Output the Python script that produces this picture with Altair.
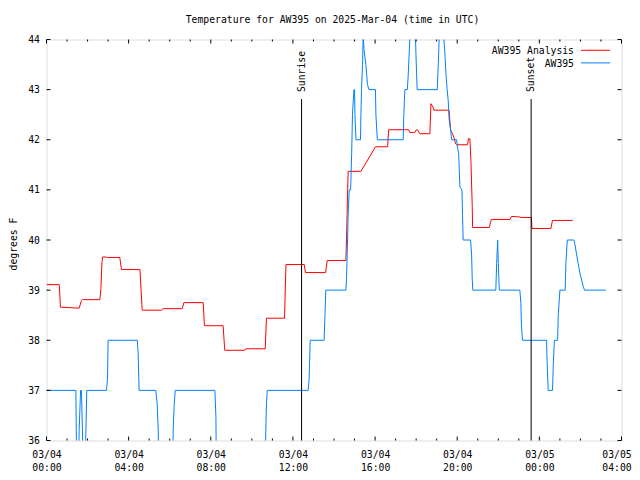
import altair as alt
import pandas as pd

TITLE = "Temperature for AW395 on 2025-Mar-04 (time in UTC)"
Y_TITLE = "degrees F"
SERIES_NAMES = ["AW395 Analysis", "AW395"]
SERIES_COLORS = ["#ff0000", "#0080ff"]

# (hours since 2025-03-04 00:00 UTC, degrees F)
analysis_points = [
    (0.00, 39.11), (0.62, 39.11), (0.68, 38.66), (1.59, 38.64), (1.70, 38.79), (1.75, 38.81),
    (2.60, 38.81), (2.65, 39.03), (2.70, 39.55), (2.73, 39.66), (2.92, 39.66), (2.97, 39.65),
    (3.57, 39.65), (3.65, 39.41), (4.55, 39.41), (4.66, 38.60), (5.60, 38.60), (5.68, 38.63),
    (6.61, 38.63), (6.69, 38.75), (7.63, 38.75), (7.69, 38.29), (8.60, 38.29), (8.68, 37.80),
    (9.66, 37.80), (9.71, 37.83), (10.65, 37.83), (10.71, 38.44), (11.59, 38.44), (11.66, 39.51),
    (12.55, 39.51), (12.61, 39.35), (13.59, 39.35), (13.67, 39.59), (14.58, 39.59), (14.61, 40.03),
    (14.66, 40.93), (14.69, 41.37), (15.31, 41.37), (16.02, 41.86), (16.61, 41.86), (16.66, 42.20),
    (17.63, 42.20), (17.70, 42.14), (17.94, 42.15), (18.02, 42.20), (18.08, 42.19), (18.18, 42.12),
    (18.67, 42.12), (18.72, 42.72), (18.80, 42.67), (18.87, 42.59), (19.60, 42.59), (19.68, 42.19),
    (19.77, 42.12), (19.84, 42.05), (19.92, 41.92), (19.97, 41.90), (20.50, 41.90), (20.55, 42.02),
    (20.62, 42.02), (20.67, 41.55), (20.73, 40.69), (20.75, 40.25), (21.56, 40.25), (21.66, 40.41),
    (22.57, 40.41), (22.65, 40.47), (23.05, 40.46), (23.09, 40.45), (23.61, 40.45), (23.64, 40.23),
    (24.56, 40.23), (24.64, 40.39), (25.62, 40.39),
]

obs_points = [
    (0.00, 37), (1.43, 37), (1.45, 36.2), (1.49, 35), (1.54, 35), (1.59, 36.2), (1.66, 37),
    (1.70, 37), (1.75, 36.2), (1.80, 35), (1.87, 35), (1.92, 36.2), (1.96, 37),
    (2.92, 37), (2.97, 37.23), (3.00, 38),
    (4.42, 38), (4.46, 37.77), (4.51, 37),
    (5.32, 37), (5.39, 36.73), (5.44, 36.23), (5.47, 35),
    (6.12, 35), (6.17, 36.23), (6.22, 36.73), (6.27, 37),
    (8.20, 37), (8.25, 36.47), (8.28, 35),
    (10.62, 35), (10.68, 36.23), (10.71, 36.73), (10.75, 37),
    (12.74, 37), (12.79, 37.23), (12.84, 38),
    (13.52, 38), (13.56, 38.5), (13.60, 39),
    (14.58, 39), (14.61, 39.23), (14.66, 40.0), (14.69, 40.5), (14.74, 41), (14.81, 41),
    (14.86, 41.73), (14.90, 42.5), (14.97, 43), (15.00, 43), (15.02, 42.5), (15.07, 42),
    (15.29, 42), (15.31, 42.5), (15.34, 43), (15.39, 43.5), (15.42, 44.1), (15.46, 43.8),
    (15.50, 43.67), (15.55, 43.5), (15.59, 43.3), (15.63, 43.1), (15.70, 43),
    (16.02, 43), (16.04, 42.5), (16.11, 42),
    (17.37, 42), (17.40, 42.5), (17.45, 43), (17.57, 43), (17.61, 43.25), (17.66, 43.72),
    (17.69, 44.0), (17.72, 45), (17.94, 45), (17.97, 44), (18.02, 43.32), (18.05, 43),
    (19.03, 43), (19.08, 43.52), (19.12, 44), (19.15, 45), (19.32, 45), (19.35, 44),
    (19.40, 43.72), (19.45, 43.32), (19.51, 43), (19.56, 42.79), (19.61, 42.39), (19.68, 42.19),
    (19.73, 42), (19.97, 42), (20.02, 41.83), (20.07, 41.73), (20.10, 41.39), (20.13, 41.06),
    (20.23, 41), (20.26, 40.49), (20.29, 40),
    (20.65, 40), (20.70, 39.72), (20.73, 39.23), (20.76, 39),
    (21.88, 39), (21.92, 39.53), (21.97, 40), (22.00, 39.53), (22.05, 39),
    (23.05, 39), (23.10, 38.73), (23.13, 38.27), (23.18, 38),
    (24.35, 38), (24.38, 37.53), (24.43, 37),
    (24.64, 37), (24.68, 37.53), (24.73, 38),
    (24.89, 38), (24.92, 38.5), (24.97, 38.8), (25.00, 39),
    (25.26, 39), (25.29, 39.53), (25.36, 40),
    (25.68, 40), (25.73, 39.92), (25.81, 39.72), (25.89, 39.53), (25.98, 39.33), (26.06, 39.2),
    (26.14, 39.07), (26.20, 39), (27.24, 39),
]

sun_hours = [12.42, 23.60]
sun_names = ["Sunrise", "Sunset"]

x_major = [0, 4, 8, 12, 16, 20, 24, 28]
x_minor = [h for h in range(0, 29) if h % 4 != 0]
y_values = [36, 37, 38, 39, 40, 41, 42, 43, 44]

W, H = 575, 401
MONO = "DejaVu Sans Mono"
FS = 9.75

red_df = pd.DataFrame(analysis_points, columns=["h", "t"]).reset_index()
blue_df = pd.DataFrame(obs_points, columns=["h", "t"]).reset_index()
sun_df = pd.DataFrame({"h": sun_hours, "name": sun_names})

xscale = alt.Scale(domain=[0, 28], nice=False, zero=False)
yscale = alt.Scale(domain=[36, 44], nice=False, zero=False)

x_axis = alt.Axis(
    values=x_major, ticks=False, tickSize=0, domain=False, grid=False,
    labelFont=MONO, labelFontSize=FS, labelColor="black", labelPadding=8.9,
    labelLineHeight=13, labelOverlap=False, labelFlush=False, labelBound=False,
    labelOffset={"condition": {"test": "datum.value >= 28", "value": -5}, "value": 0},
    labelExpr="[datum.value < 24 ? '03/04' : '03/05', (datum.value % 24 < 10 ? '0' : '') + (datum.value % 24) + ':00']",
    title=None,
)
y_axis = alt.Axis(
    values=y_values, format="d", ticks=False, tickSize=0, domain=False, grid=False,
    labelFont=MONO, labelFontSize=FS, labelColor="black", labelPadding=7, title=None,
)

X = alt.X("h:Q", scale=xscale, axis=x_axis)
Y = alt.Y("t:Q", scale=yscale, axis=y_axis)

red = alt.Chart(red_df).mark_line(color=SERIES_COLORS[0], strokeWidth=1, clip=True).encode(
    x=X, y=Y, order="index:Q")
blue = alt.Chart(blue_df).mark_line(color=SERIES_COLORS[1], strokeWidth=1, clip=True).encode(
    x=X, y=Y, order="index:Q")

sun_rules = alt.Chart(sun_df).mark_rule(color="black", strokeWidth=1).encode(
    x=X, y=alt.value(59.5), y2=alt.value(H))
sun_text = alt.Chart(sun_df).mark_text(
    font=MONO, fontSize=FS, angle=270, align="left", baseline="middle", color="black"
).encode(x=X, y=alt.value(52.5), text="name:N")

major_df = pd.DataFrame({"h": x_major})
minor_df = pd.DataFrame({"h": x_minor})
ytick_df = pd.DataFrame({"t": y_values})

def vticks(df, length):
    bottom = alt.Chart(df).mark_rule(color="black", strokeWidth=1).encode(
        x=X, y=alt.value(H), y2=alt.value(H - length))
    top = alt.Chart(df).mark_rule(color="black", strokeWidth=1).encode(
        x=X, y=alt.value(0), y2=alt.value(length))
    return [bottom, top]

left_ticks = alt.Chart(ytick_df).mark_rule(color="black", strokeWidth=1).encode(
    y=Y, x=alt.value(0), x2=alt.value(4))
right_ticks = alt.Chart(ytick_df).mark_rule(color="black", strokeWidth=1).encode(
    y=Y, x=alt.value(W), x2=alt.value(W - 4))

title = alt.Chart(pd.DataFrame({"label": [TITLE]})).mark_text(
    font=MONO, fontSize=FS, align="center", baseline="alphabetic", color="black"
).encode(x=alt.value(286), y=alt.value(-16.5), text="label:N")

ytitle = alt.Chart(pd.DataFrame({"label": [Y_TITLE]})).mark_text(
    font=MONO, fontSize=FS, angle=270, align="center", baseline="middle", color="black"
).encode(x=alt.value(-33), y=alt.value(204.5), text="label:N")

legend_layers = []
for i, (name, col) in enumerate(zip(SERIES_NAMES, SERIES_COLORS)):
    ly = 10.8 + i * 12.6
    ldf = pd.DataFrame({"label": [name]})
    legend_layers.append(alt.Chart(ldf).mark_text(
        font=MONO, fontSize=FS, align="right", baseline="middle", color="black"
    ).encode(x=alt.value(527.5), y=alt.value(ly + 0.6), text="label:N"))
    legend_layers.append(alt.Chart(ldf).mark_rule(color=col, strokeWidth=1).encode(
        x=alt.value(534.5), x2=alt.value(563.5), y=alt.value(ly)))

chart = alt.layer(
    red, blue, sun_rules, sun_text,
    *vticks(major_df, 4), *vticks(minor_df, 2), left_ticks, right_ticks,
    title, ytitle, *legend_layers,
).properties(
    width=W, height=H,
    padding={"left": 38.5, "top": 31.5, "right": 10.5, "bottom": 31.5},
    autosize=alt.AutoSizeParams(type="none"),
).configure_view(stroke="black", strokeWidth=1).configure(background="white")

chart.save("out.html", embed_options={"renderer": "svg", "actions": False})
